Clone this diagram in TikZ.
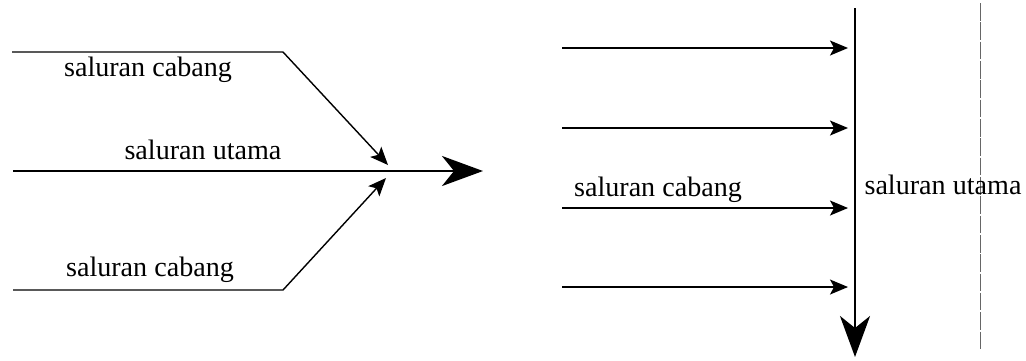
\documentclass[tikz,border=0pt]{standalone}
\usepackage{fontspec}
\setmainfont{Liberation Serif}
\usepackage{tikz}
\usetikzlibrary{arrows.meta,positioning}

\begin{document}
\begin{tikzpicture}[
			x=0.02cm,y=-0.02cm,
			label/.style={inner sep=0pt,font=\fontsize{16}{19}\selectfont},
			cabang/.style={draw=black,line width=0.8pt,-{Stealth[length=0.36cm,width=0.3cm,inset=0.08cm]}},
			utama/.style={draw=black,line width=1.6pt,-{Stealth[length=0.82cm,width=0.6cm,inset=0.24cm]}},
			batas/.style={draw=black!60,line width=0.4pt,dash pattern=on 10pt off 1pt}
			]
			\useasboundingbox (0,0) rectangle (1026,360);
			% kiri
			\coordinate (a1) at (12,52);
			\coordinate (a2) at (283,52);
			\coordinate (a3) at (388,165);
			\coordinate (u1) at (13,171);
			\coordinate (u2) at (483,171);
			\coordinate (b1) at (13,290);
			\coordinate (b2) at (283,290);
			\coordinate (b3) at (386,178);
			\draw[cabang] (a1) -- (a2) -- (a3);
			\draw[cabang] (b1) -- (b2) -- (b3);
			\draw[utama] (u1) -- (u2);
			\node[label] (lc1) at (148,70) {saluran cabang};
			\node[label] (lu) at (203,150) {saluran utama};
			\node[label] (lc2) at (150,270) {saluran cabang};
			% kanan
			\coordinate (k1) at (562,48);
			\coordinate (k2) at (562,128);
			\coordinate (k3) at (562,208);
			\coordinate (k4) at (562,287);
			\coordinate (m1) at (848,48);
			\coordinate (m2) at (848,128);
			\coordinate (m3) at (848,208);
			\coordinate (m4) at (848,287);
			\draw[cabang] (k1) -- (m1);
			\draw[cabang] (k2) -- (m2);
			\draw[cabang] (k3) -- (m3);
			\draw[cabang] (k4) -- (m4);
			\coordinate (v1) at (855,8);
			\coordinate (v2) at (855,357);
			\draw[utama] (v1) -- (v2);
			\coordinate (d1) at (980,3);
			\coordinate (d2) at (980,350);
			\draw[batas] (d1) -- (d2);
			\node[label] (rc) at (658,190) {saluran cabang};
			\node[label] (ru) at (943,185) {saluran utama};
		\end{tikzpicture}
\end{document}
